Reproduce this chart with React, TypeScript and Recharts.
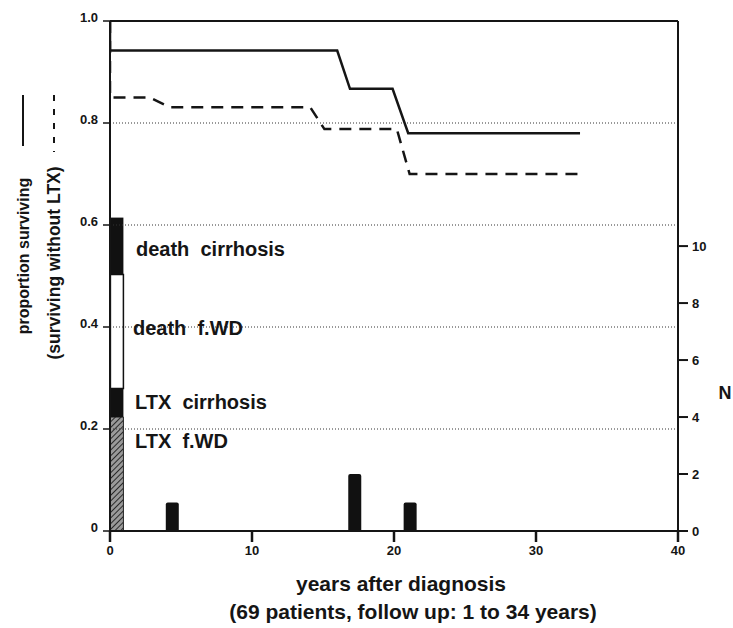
import { ComposedChart, Line, Bar, XAxis, YAxis, ReferenceLine } from 'recharts';

// Kaplan-Meier style curves (years after diagnosis -> proportion)
const survival = [
  { year: 0, p: 1.0 },
  { year: 0, p: 0.942 },
  { year: 16.0, p: 0.942 },
  { year: 16.9, p: 0.867 },
  { year: 19.9, p: 0.867 },
  { year: 21.0, p: 0.78 },
  { year: 33.1, p: 0.78 },
];

const survivalNoLtx = [
  { year: 0, p: 1.0 },
  { year: 0, p: 0.85 },
  { year: 2.8, p: 0.85 },
  { year: 4.2, p: 0.831 },
  { year: 14.1, p: 0.831 },
  { year: 15.1, p: 0.788 },
  { year: 20.2, p: 0.788 },
  { year: 21.1, p: 0.7 },
  { year: 33.0, p: 0.7 },
];

// event counts (N, right axis)
const eventYears = [0.5, 4.4, 17.25, 21.15];
const ltxWd = [4, 0, 0, 0];
const ltxCirrhosis = [1, 0, 0, 0];
const deathWd = [4, 0, 0, 0];
const deathCirrhosis = [2, 0, 0, 0];
const laterEvents = [0, 1, 2, 1];

const xTicks = [0, 10, 20, 30, 40];
const pTicks = [0, 0.2, 0.4, 0.6, 0.8, 1.0];
const nTicks = [0, 2, 4, 6, 8, 10];
const gridLevels = [0.2, 0.4, 0.6, 0.8];

const events = eventYears.map((year, i) => ({
  year,
  ltxWd: ltxWd[i] || undefined,
  ltxCirrhosis: ltxCirrhosis[i] || undefined,
  deathWd: deathWd[i] || undefined,
  deathCirrhosis: deathCirrhosis[i] || undefined,
  later: laterEvents[i] || undefined,
}));

const font = '"Liberation Sans", Arial, sans-serif';
const ink = '#151515';
const tickStyle = { fill: ink, fontSize: 13, fontWeight: 700, fontFamily: font };
const sp = '\u00a0\u00a0';

export default function App() {
  return (
    <div style={{ position: 'absolute', left: 0, top: 0, width: 733, height: 628, background: '#fff' }}>
      <ComposedChart
        width={733}
        height={628}
        data={events}
        margin={{ top: 21, right: 0, bottom: 0, left: 0 }}
      >
        <defs>
          <pattern id="hatch" width="4" height="4" patternUnits="userSpaceOnUse" patternTransform="rotate(45)">
            <rect width="4" height="4" fill="#9a9a9a" />
            <line x1="0" y1="0" x2="0" y2="4" stroke="#2a2a2a" strokeWidth="2" />
          </pattern>
        </defs>

        <XAxis
          dataKey="year"
          type="number"
          domain={[0, 40]}
          ticks={xTicks}
          height={97}
          tickSize={11}
          tickMargin={4}
          axisLine={{ stroke: ink, strokeWidth: 2 }}
          tickLine={{ stroke: ink, strokeWidth: 2.5 }}
          tick={tickStyle}
          allowDataOverflow
        />
        {/* hidden twin axis so the bar width is not squeezed by the curve points */}
        <XAxis
          xAxisId="bars"
          dataKey="year"
          type="number"
          domain={[0, 40]}
          height={0}
          hide
          allowDataOverflow
        />
        <YAxis
          yAxisId="p"
          type="number"
          domain={[0, 1]}
          ticks={pTicks}
          width={110}
          tickSize={7}
          tickMargin={5}
          tickFormatter={(v: number) => (v === 0 ? '0' : v.toFixed(1))}
          axisLine={{ stroke: ink, strokeWidth: 2 }}
          tickLine={{ stroke: ink, strokeWidth: 1.5 }}
          tick={{ ...tickStyle, dy: -4 }}
        />
        <YAxis
          yAxisId="n"
          orientation="right"
          type="number"
          domain={[0, 17.9]}
          ticks={nTicks}
          width={55}
          tickSize={10}
          tickMargin={4}
          axisLine={{ stroke: ink, strokeWidth: 2 }}
          tickLine={{ stroke: ink, strokeWidth: 2 }}
          tick={tickStyle}
          allowDataOverflow
        />

        {gridLevels.map((g) => (
          <ReferenceLine key={g} yAxisId="p" y={g} stroke="#333" strokeWidth={1} strokeDasharray="1 2" />
        ))}
        <ReferenceLine yAxisId="p" y={1} stroke={ink} strokeWidth={2} />

        <Bar xAxisId="bars" yAxisId="n" dataKey="ltxWd" stackId="n" barSize={13} fill="url(#hatch)" stroke="#222" strokeWidth={1} isAnimationActive={false} />
        <Bar xAxisId="bars" yAxisId="n" dataKey="ltxCirrhosis" stackId="n" barSize={13} fill="#111" isAnimationActive={false} />
        <Bar xAxisId="bars" yAxisId="n" dataKey="deathWd" stackId="n" barSize={13} fill="#fff" stroke="#111" strokeWidth={1.5} isAnimationActive={false} />
        <Bar xAxisId="bars" yAxisId="n" dataKey="deathCirrhosis" stackId="n" barSize={13} fill="#111" isAnimationActive={false} />
        <Bar xAxisId="bars" yAxisId="n" dataKey="later" stackId="n" barSize={13} fill="#111" radius={[2, 2, 0, 0]} isAnimationActive={false} />

        <Line
          yAxisId="p"
          data={survival}
          dataKey="p"
          type="linear"
          stroke={ink}
          strokeWidth={2.5}
          dot={false}
          isAnimationActive={false}
        />
        <Line
          yAxisId="p"
          data={survivalNoLtx}
          dataKey="p"
          type="linear"
          stroke={ink}
          strokeWidth={2.5}
          strokeDasharray="12 8"
          dot={false}
          isAnimationActive={false}
        />
      </ComposedChart>

      {/* titles and in-plot labels */}
      <svg
        width={733}
        height={628}
        style={{ position: 'absolute', left: 0, top: 0, pointerEvents: 'none' }}
        fontFamily={font}
        fontWeight={700}
        fill={ink}
      >
        <g fontSize={20}>
          <text x={136} y={256}>{`death${sp}cirrhosis`}</text>
          <text x={133} y={335}>{`death${sp}f.WD`}</text>
          <text x={135} y={409}>{`LTX${sp}cirrhosis`}</text>
          <text x={135} y={448}>{`LTX${sp}f.WD`}</text>
        </g>

        <text x={401} y={591} fontSize={21} textAnchor="middle">years after diagnosis</text>
        <text x={413} y={619} fontSize={21} textAnchor="middle">(69 patients, follow up: 1 to 34 years)</text>

        <text x={725} y={399} fontSize={18} textAnchor="middle">N</text>

        <text transform="translate(29,256) rotate(-90)" fontSize={16} textAnchor="middle">proportion surviving</text>
        <line x1={23} y1={95} x2={23} y2={146} stroke={ink} strokeWidth={2} />

        <text transform="translate(60,263) rotate(-90)" fontSize={17.5} textAnchor="middle">(surviving without LTX)</text>
        <line x1={54} y1={95} x2={54} y2={152} stroke={ink} strokeWidth={2} strokeDasharray="6 8" />
      </svg>
    </div>
  );
}
